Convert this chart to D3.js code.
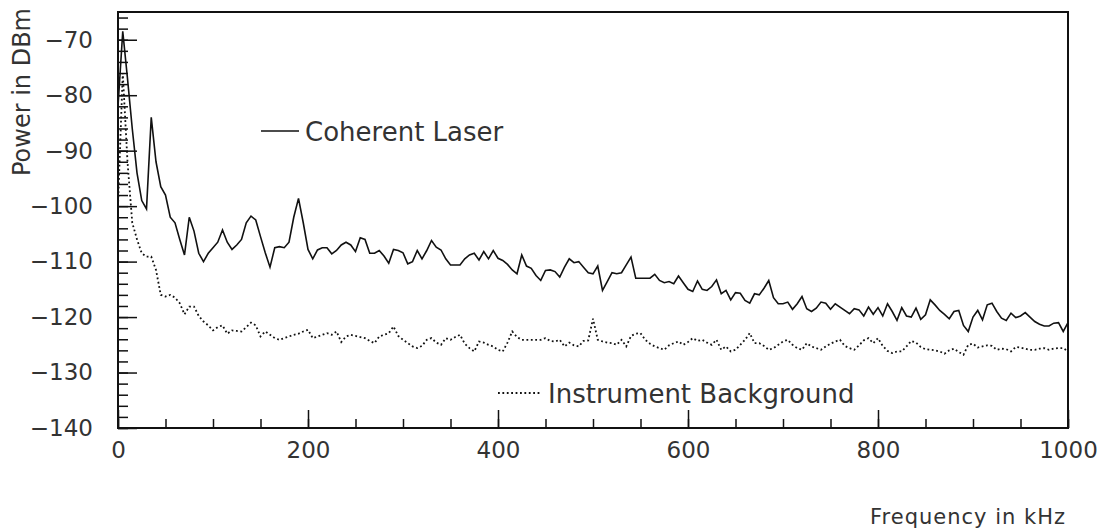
<!DOCTYPE html>
<html>
<head>
<meta charset="utf-8">
<script src="https://cdn.jsdelivr.net/npm/d3@7"></script>
<style>
  body { margin: 0; background: #fff; }
  text { font-family: 'DejaVu Sans', sans-serif; fill: #333; }
</style>
</head>
<body>
<script>
'use strict';

//spectrum sampled every 5 kHz from 0 to 1000 kHz
var freqStep = 5;

//coherent laser, power in dBm (solid line)
var laserPower = [
  -82, -68.5, -77, -86, -94, -99, -100.5, -84, -92, -96.5,
  -98, -102, -103, -106, -108.8, -102, -104.5, -108.5, -110, -108.5,
  -107.5, -106.5, -104.3, -106.5, -107.8, -107, -106, -103, -101.8, -102.5,
  -105.5, -108.4, -111, -107.5, -107.3, -107.5, -106.5, -102, -98.6, -103,
  -107.8, -109.5, -107.9, -107.5, -107.5, -108.6, -108, -107, -106.5, -107,
  -108.2, -105.7, -106, -108.5, -108.5, -108, -109, -110.3, -107.8, -108,
  -108.4, -110.4, -110, -108, -109.5, -108, -106.2, -107.4, -107.9, -109.5,
  -110.6, -110.6, -110.6, -109.5, -108.8, -108.5, -109.7, -108.2, -109.5, -108,
  -109.4, -109.8, -110.5, -111.5, -112.2, -108.8, -110.8, -111.2, -112.5, -113.4,
  -111.6, -111.5, -111.8, -112.8, -111, -109.5, -110.2, -110, -111, -112,
  -112.2, -110.8, -115.2, -113.6, -112, -112.2, -112, -110.6, -109.2, -113,
  -113, -113, -113, -112.3, -113.4, -113.8, -113.6, -114, -112.6, -113.8,
  -115, -115.4, -113.5, -115, -115.2, -114.5, -113.3, -115.8, -115.2, -116.9,
  -115.6, -115.7, -117, -117.5, -115.8, -116, -114.8, -113.4, -116.5, -117.6,
  -117.6, -117.3, -118.6, -117.6, -116.3, -118.5, -119, -118.4, -117.3, -117.5,
  -118.6, -117.6, -118.2, -118.8, -119.4, -118.5, -118.7, -119.8, -118.2, -119.5,
  -118.3, -119.8, -117.6, -119, -120.6, -118.3, -119.8, -120, -118.4, -120.4,
  -119.6, -116.9, -117.8, -118.8, -119.5, -120.3, -119, -118.8, -121.5, -122.6,
  -120, -118.8, -120.5, -117.8, -117.5, -119, -120.2, -120.6, -119.3, -120.1,
  -119.8, -119.2, -120, -120.8, -121.3, -121.6, -121.6, -121.1, -121, -122.6,
  -121
];

//instrument background, power in dBm (dotted line)
var backgroundPower = [
  -100, -76, -92, -103, -106, -108.5, -109.1, -109.1, -111.5, -116,
  -116.3, -116, -116.5, -117.5, -119.5, -118.1, -118.1, -119.8, -120.8, -121.5,
  -122.4, -121.8, -121.5, -123, -122.4, -122.5, -122.6, -121.8, -121, -121.5,
  -123.5, -122.6, -123.2, -123.8, -124.1, -123.8, -123.5, -123.2, -123, -122.6,
  -122.3, -123.8, -123.5, -123.2, -122.9, -123.2, -122.6, -124.5, -123.5, -123.2,
  -123.4, -123.6, -123.8, -124.3, -124.7, -123.5, -123.2, -122.9, -121.7, -123.4,
  -124.1, -124.7, -125.3, -125.6, -125.2, -124.1, -123.8, -124.6, -125, -123.8,
  -124.1, -123.6, -123.2, -124.8, -125.6, -126.2, -124.4, -124.6, -125, -125.3,
  -125.9, -126.2, -124.6, -122.6, -123.6, -124.1, -124.1, -124.1, -124.1, -124.1,
  -123.8, -124.3, -124.4, -124.1, -125.3, -124.6, -125.1, -125.3, -124.3, -124.2,
  -120.3, -124.1, -124.4, -124.6, -124.7, -125, -124.1, -125.3, -123.4, -123,
  -122.9, -124.1, -124.8, -125.3, -125.6, -125.9, -125.1, -124.7, -124.4, -125,
  -124.5, -123.8, -124.3, -124.1, -124.6, -125, -124.1, -125.9, -125.3, -126.2,
  -125.9, -125, -124.1, -122.9, -124.7, -124.7, -125.2, -125.9, -125.6, -125,
  -124.4, -124.1, -125, -125.6, -125.9, -124.7, -125.3, -125.6, -125.9, -125.3,
  -124.8, -124.4, -124.1, -125.2, -125.6, -125.9, -125.1, -124.2, -123.8, -124.7,
  -123.8, -125.2, -126.1, -126.5, -126.2, -126.2, -125.3, -124.3, -124.6, -125.4,
  -125.8, -125.9, -126, -126.2, -126.6, -126, -125.7, -126.3, -126.8, -125,
  -124.8, -125.5, -125.3, -125.1, -125.2, -125.9, -125.7, -125.8, -126.2, -125.4,
  -125.5, -125.7, -125.9, -125.9, -125.7, -125.6, -125.9, -125.7, -125.6, -125.6,
  -126.2
];

var xMajorTicks = [0, 200, 400, 600, 800, 1000];
var yMajorTicks = [-140, -130, -120, -110, -100, -90, -80, -70];
var seriesNames = ['Coherent Laser', 'Instrument Background'];

var width = 1109;
var height = 530;
var plot = { left: 118, right: 1068, top: 12, bottom: 428 };

var svg = d3.select('body')
  .append('svg')
  .attr('width', width)
  .attr('height', height);

svg.append('rect')
  .attr('width', width)
  .attr('height', height)
  .attr('fill', '#fff');

var x = d3.scaleLinear()
  .domain([0, 1000])
  .range([plot.left, plot.right]);

var y = d3.scaleLinear()
  .domain([-140, -65])
  .range([plot.bottom, plot.top]);

var line = d3.line()
  .x(function(d, i) { return x(i * freqStep); })
  .y(function(d) { return y(d); });

//clip so nothing spills past the frame
svg.append('clipPath')
  .attr('id', 'plot-clip')
  .append('rect')
  .attr('x', plot.left)
  .attr('y', plot.top)
  .attr('width', plot.right - plot.left)
  .attr('height', plot.bottom - plot.top);

var curves = svg.append('g').attr('clip-path', 'url(#plot-clip)');

curves.append('path')
  .datum(backgroundPower)
  .attr('d', line)
  .attr('fill', 'none')
  .attr('stroke', '#111')
  .attr('stroke-width', 1.8)
  .attr('stroke-dasharray', '1.8,2.6');

curves.append('path')
  .datum(laserPower)
  .attr('d', line)
  .attr('fill', 'none')
  .attr('stroke', '#111')
  .attr('stroke-width', 1.6)
  .attr('stroke-linejoin', 'miter');

//minor ticks first, then major ticks with labels
function styleAxis(g) {
  g.select('.domain').remove();
  g.selectAll('line').attr('stroke', '#111').attr('stroke-width', 1.5);
  g.selectAll('text')
    .attr('font-family', 'DejaVu Sans, sans-serif')
    .attr('font-size', 23)
    .attr('fill', '#333');
}

svg.append('g')
  .attr('transform', 'translate(' + plot.left + ',0)')
  .call(d3.axisLeft(y).tickValues(d3.range(-140, -64, 2)).tickSize(-10).tickFormat(''))
  .call(styleAxis);

svg.append('g')
  .attr('transform', 'translate(' + plot.left + ',0)')
  .call(d3.axisLeft(y).tickValues(yMajorTicks).tickSize(-19).tickPadding(25))
  .call(styleAxis);

svg.append('g')
  .attr('transform', 'translate(0,' + plot.bottom + ')')
  .call(d3.axisBottom(x).tickValues(d3.range(0, 1001, 50)).tickSize(-9).tickFormat(''))
  .call(styleAxis);

svg.append('g')
  .attr('transform', 'translate(0,' + plot.bottom + ')')
  .call(d3.axisBottom(x).tickValues(xMajorTicks).tickSize(-18).tickPadding(14).tickFormat(d3.format('d')))
  .call(styleAxis);

//frame around the plot area
svg.append('rect')
  .attr('x', plot.left)
  .attr('y', plot.top)
  .attr('width', plot.right - plot.left)
  .attr('height', plot.bottom - plot.top)
  .attr('fill', 'none')
  .attr('stroke', '#111')
  .attr('stroke-width', 2);

//axis titles
svg.append('text')
  .attr('transform', 'translate(30,8)rotate(-90)')
  .attr('text-anchor', 'end')
  .attr('font-size', 24)
  .text('Power in DBm');

svg.append('text')
  .attr('x', 1066)
  .attr('y', 524)
  .attr('text-anchor', 'end')
  .attr('font-size', 21)
  .attr('letter-spacing', 1)
  .text('Frequency in kHz');

//legend entries placed inside the plot
var legendItems = [
  { name: seriesNames[0], x1: 261, x2: 299, y: 131, dash: null, width: 1.5 },
  { name: seriesNames[1], x1: 498, x2: 542, y: 393, dash: '1.8,2.6', width: 1.8 }
];

var legend = svg.selectAll('g.legend')
  .data(legendItems)
  .enter().append('g')
  .attr('class', 'legend');

legend.append('line')
  .attr('x1', function(d) { return d.x1; })
  .attr('x2', function(d) { return d.x2; })
  .attr('y1', function(d) { return d.y; })
  .attr('y2', function(d) { return d.y; })
  .attr('stroke', '#111')
  .attr('stroke-width', function(d) { return d.width; })
  .attr('stroke-dasharray', function(d) { return d.dash; });

legend.append('text')
  .attr('x', function(d) { return d.x2 + 6; })
  .attr('y', function(d) { return d.y + 10; })
  .attr('font-size', 26)
  .text(function(d) { return d.name; });
</script>
</body>
</html>
